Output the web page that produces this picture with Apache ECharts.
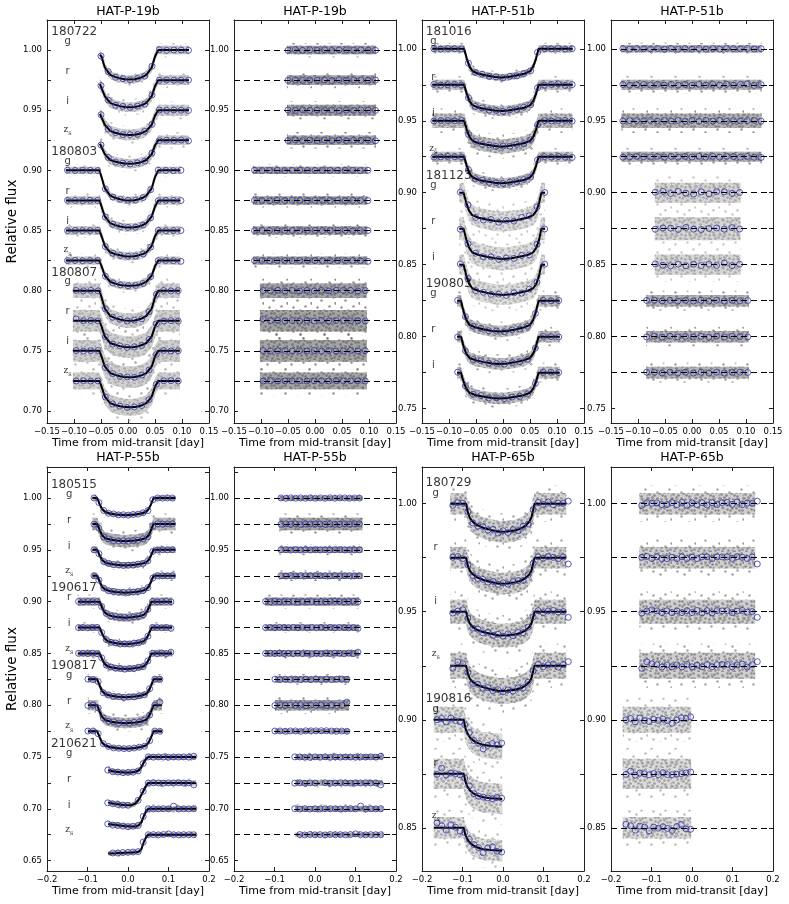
<!DOCTYPE html>
<html><head><meta charset="utf-8">
<script src="https://cdn.jsdelivr.net/npm/echarts@6/dist/echarts.min.js"></script>
<style>html,body{margin:0;padding:0;background:#fff}#c{width:789px;height:904px}</style>
</head><body><div id="c"></div><script>
// ---------------- tick values ----------------
const yTicks19 = [0.700,0.725,0.750,0.775,0.800,0.825,0.850,0.875,0.900,0.925,0.950,0.975,1.000];
const yLabels19 = [0.70,0.75,0.80,0.85,0.90,0.95,1.00];
const yTicks51 = [0.750,0.775,0.800,0.825,0.850,0.875,0.900,0.925,0.950,0.975,1.000];
const yLabels51 = [0.75,0.80,0.85,0.90,0.95,1.00];
const yTicks55 = [0.650,0.675,0.700,0.725,0.750,0.775,0.800,0.825,0.850,0.875,0.900,0.925,0.950,0.975,1.000,1.025];
const yLabels55 = [0.65,0.70,0.75,0.80,0.85,0.90,0.95,1.00];
const yTicks65 = [0.850,0.875,0.900,0.925,0.950,0.975,1.000];
const yLabels65 = [0.85,0.90,0.95,1.00];

// ---------------- HAT-P-19b ----------------
// flux values below are in parts-per-thousand relative to each curve's baseline
const filt_180722 = ['g','r','i','zs'];
const base_180722 = [1.000,0.975,0.950,0.925];
const noise_180722 = [3.5,4,4.5,4];
const modT_180722 = [-0.052,-0.049,-0.043,-0.033,-0.024,-0.015,-0.006,0.003,0.012,0.020,0.027,0.034,0.044,0.050,0.056,0.113];
const modF_180722 = [
 [-3.7,-5.4,-14.5,-20.6,-22.3,-23.5,-24.3,-24.5,-24.3,-23.5,-22.3,-20.6,-14.5,-5.4,0,0],
 [-3.4,-5.0,-13.3,-18.9,-20.5,-21.6,-22.3,-22.5,-22.3,-21.6,-20.5,-18.9,-13.3,-5.0,0,0],
 [-3.1,-4.5,-12.1,-17.2,-18.7,-19.7,-20.3,-20.5,-20.3,-19.7,-18.7,-17.2,-12.1,-4.5,0,0],
 [-2.9,-4.3,-11.5,-16.4,-17.7,-18.7,-19.3,-19.5,-19.3,-18.7,-17.7,-16.4,-11.5,-4.3,0,0]];
const binT_180722 = [-0.050,-0.0365,-0.023,-0.0095,0.004,0.0175,0.031,0.0445,0.058,0.0715,0.085,0.0985,0.112];
const binF_180722 = [
 [-4.9,-18.0,-22.7,-23.8,-24.7,-23.6,-21.6,-13.4,0.3,-0.2,0.1,0.0,-0.2],
 [-4.5,-16.6,-20.9,-21.8,-22.7,-21.6,-19.9,-12.3,-0.2,0.2,0.0,-0.1,0.1],
 [-3.7,-15.7,-18.6,-20.3,-20.3,-20.1,-17.5,-11.8,0.2,-0.1,0.2,0.0,-0.2],
 [-3.9,-14.3,-18.1,-18.9,-19.7,-18.7,-17.3,-10.6,-0.3,0.1,-0.1,0.2,-0.4]];
const binR_180722 = [
 [-0.2,0.4,-0.3,0.2,-0.2,0.2,-0.3,0.3,0.3,-0.2,0.1,0.0,-0.2],
 [-0.2,0.3,-0.3,0.2,-0.2,0.2,-0.3,0.3,-0.2,0.2,0.0,-0.1,0.1],
 [0.2,-0.3,0.2,-0.2,0.2,-0.2,0.3,-0.3,0.2,-0.1,0.2,0.0,-0.2],
 [-0.2,0.3,-0.3,0.2,-0.2,0.2,-0.3,0.3,-0.3,0.1,-0.1,0.2,-0.4]];

const filt_180803 = ['g','r','i','zs'];
const base_180803 = [0.900,0.875,0.850,0.825];
const noise_180803 = [3,3.5,3.5,3.5];
const modT_180803 = [-0.115,-0.053,-0.049,-0.043,-0.033,-0.024,-0.015,-0.006,0.003,0.012,0.020,0.027,0.034,0.044,0.050,0.056,0.097];
const modF_180803 = [
 [0,0,-5.5,-14.8,-21.0,-22.8,-24.0,-24.8,-25.0,-24.8,-24.0,-22.8,-21.0,-14.8,-5.5,0,0],
 [0,0,-5.0,-13.3,-18.9,-20.5,-21.6,-22.3,-22.5,-22.3,-21.6,-20.5,-18.9,-13.3,-5.0,0,0],
 [0,0,-4.7,-12.7,-18.1,-19.6,-20.6,-21.3,-21.5,-21.3,-20.6,-19.6,-18.1,-12.7,-4.7,0,0],
 [0,0,-4.6,-12.4,-17.6,-19.1,-20.2,-20.8,-21.0,-20.8,-20.2,-19.1,-17.6,-12.4,-4.6,0,0]];
const binT_180803 = [-0.112,-0.098,-0.084,-0.070,-0.056,-0.042,-0.028,-0.014,0.000,0.014,0.028,0.042,0.056,0.070,0.084,0.098];
const binF_180803 = [
 [0.2,-0.1,0.1,0.0,-0.2,-15.4,-22.2,-24.1,-24.8,-24.7,-22.6,-16.0,0.2,0.0,-0.2,0.1],
 [0.1,0.0,-0.2,0.1,0.0,-13.8,-19.8,-21.7,-22.4,-22.2,-20.4,-14.4,-0.2,0.1,0.0,-0.1],
 [-0.1,0.1,0.0,0.0,0.1,-13.2,-18.9,-20.7,-21.4,-21.2,-19.5,-13.8,0.1,-0.1,0.0,0.0],
 [0.0,0.1,-0.1,0.1,0.0,-12.9,-18.5,-20.2,-20.9,-20.7,-19.0,-13.4,0.0,0.1,-0.1,-0.6]];
const binR_180803 = [
 [0.2,-0.1,0.1,0.0,-0.2,0.0,0.1,0.0,-0.1,0.1,0.0,0.0,0.2,0.0,-0.2,0.1],
 [0.1,0.0,-0.2,0.1,0.0,0.1,0.0,-0.1,0.0,0.1,0.0,0.0,-0.2,0.1,0.0,-0.1],
 [-0.1,0.1,0.0,0.0,0.1,0.0,-0.1,0.0,0.1,0.0,0.0,0.0,0.1,-0.1,0.0,0.0],
 [0.0,0.1,-0.1,0.1,0.0,0.0,0.1,0.0,0.0,-0.1,0.0,0.0,0.0,0.1,-0.1,-0.6]];

const filt_180807 = ['g','r','i','zs'];
const base_180807 = [0.800,0.775,0.750,0.725];
const noise_180807 = [6,9,9,7];
const modT_180807 = [-0.102,-0.053,-0.049,-0.043,-0.033,-0.024,-0.015,-0.006,0.003,0.012,0.020,0.027,0.034,0.044,0.050,0.056,0.096];
const modF_180807 = [
 [0,0,-5.5,-14.8,-21.0,-22.8,-24.0,-24.8,-25.0,-24.8,-24.0,-22.8,-21.0,-14.8,-5.5,0,0],
 [0,0,-4.8,-13.0,-18.5,-20.0,-21.1,-21.8,-22.0,-21.8,-21.1,-20.0,-18.5,-13.0,-4.8,0,0],
 [0,0,-4.8,-13.0,-18.5,-20.0,-21.1,-21.8,-22.0,-21.8,-21.1,-20.0,-18.5,-13.0,-4.8,0,0],
 [0,0,-4.8,-13.0,-18.5,-20.0,-21.1,-21.8,-22.0,-21.8,-21.1,-20.0,-18.5,-13.0,-4.8,0,0]];
const binT_180807 = [-0.096,-0.0825,-0.069,-0.0555,-0.042,-0.0285,-0.015,-0.0015,0.012,0.0255,0.039,0.0525,0.066,0.0795,0.093];
const binF_180807 = [
 [0.2,-0.1,0.3,-0.2,-15.2,-22.1,-23.8,-25.2,-24.5,-23.4,-17.6,-3.0,0.2,-0.2,0.1],
 [1.5,0.1,0.2,-0.1,-13.3,-19.4,-20.9,-22.2,-21.6,-20.6,-15.5,-2.6,-0.2,0.1,-0.3],
 [0.2,-0.2,0.1,0.3,-13.7,-18.9,-21.3,-21.7,-22.0,-20.2,-15.9,-3.1,0.3,-0.1,0.1],
 [-0.1,0.2,-0.2,0.0,-13.4,-19.2,-21.0,-22.1,-21.7,-20.5,-15.6,-2.8,0.1,0.2,-0.1]];
const binR_180807 = [
 [0.2,-0.1,0.3,-0.2,0.2,-0.3,0.2,-0.3,0.3,-0.3,0.3,0.3,0.2,-0.2,0.1],
 [1.5,0.1,0.2,-0.1,0.2,-0.3,0.2,-0.3,0.2,-0.2,0.2,0.3,-0.2,0.1,-0.3],
 [0.2,-0.2,0.1,0.3,-0.2,0.2,-0.2,0.3,-0.2,0.2,-0.2,-0.2,0.3,-0.1,0.1],
 [-0.1,0.2,-0.2,0.0,0.0,0.2,-0.1,0.0,0.1,-0.1,0.2,0.1,0.1,0.2,-0.1]];

// ---------------- HAT-P-51b ----------------
const filt_181016 = ['g','r','i','zs'];
const base_181016 = [1.000,0.975,0.950,0.925];
const noise_181016 = [2.5,3.5,5,3.5];
const modT_181016 = [-0.131,-0.072,-0.067,-0.062,-0.056,-0.045,-0.030,-0.015,-0.003,0.009,0.024,0.039,0.050,0.056,0.061,0.066,0.129];
const modF_181016 = [
 [0,0,-7.0,-12.4,-15.6,-17.4,-18.6,-19.6,-20.0,-19.6,-18.6,-17.4,-15.6,-12.4,-7.0,0,0],
 [0,0,-6.4,-11.3,-14.3,-15.9,-17.0,-17.9,-18.3,-17.9,-17.0,-15.9,-14.3,-11.3,-6.4,0,0],
 [0,0,-6.3,-11.2,-14.0,-15.7,-16.7,-17.6,-18.0,-17.6,-16.7,-15.7,-14.0,-11.2,-6.3,0,0],
 [0,0,-6.5,-11.5,-14.4,-16.1,-17.2,-18.1,-18.5,-18.1,-17.2,-16.1,-14.4,-11.5,-6.5,0,0]];
const binT_181016 = [-0.128,-0.1152,-0.1024,-0.0896,-0.0768,-0.064,-0.0512,-0.0384,-0.0256,-0.0128,0,0.0128,0.0256,0.0384,0.0512,0.064,0.0768,0.0896,0.1024,0.1152,0.128];
const binF_181016 = [
 [0.1,-0.2,0.2,0,-0.1,-10.0,-16.5,-17.7,-19.2,-19.5,-20.2,-19.1,-18.8,-17.2,-15.3,-2.5,0.2,-0.1,0.3,-0.2,0.1],
 [0.2,-0.3,0.1,0.3,-0.2,-9.0,-15.1,-16.1,-17.6,-17.8,-18.5,-17.4,-17.2,-15.6,-13.9,-2.2,-0.3,0.2,0.6,-0.5,0.1],
 [-0.2,0.1,0.2,-0.1,0.2,-9.5,-14.3,-16.4,-16.8,-17.9,-17.6,-17.7,-16.4,-15.9,-13.2,-2.8,0.2,-0.2,0.1,0.3,-0.3],
 [-0.3,-0.1,0.3,0,-0.2,-9.1,-15.3,-16.3,-17.8,-18.0,-18.6,-17.6,-17.4,-15.8,-14.2,-2.3,0.1,-0.3,0.2,-0.4,-0.5]];
const binR_181016 = [
 [0.1,-0.2,0.2,0,-0.1,0.2,-0.3,0.2,-0.3,0.2,-0.3,0.2,-0.3,0.2,-0.3,0.3,0.2,-0.1,0.3,-0.2,0.1],
 [0.2,-0.3,0.1,0.3,-0.2,0.3,-0.3,0.3,-0.3,0.2,-0.3,0.3,-0.3,0.3,-0.2,0.4,-0.3,0.2,0.6,-0.5,0.1],
 [-0.2,0.1,0.2,-0.1,0.2,-0.3,0.3,-0.3,0.2,-0.3,0.3,-0.3,0.3,-0.2,0.3,-0.3,0.2,-0.2,0.1,0.3,-0.3],
 [-0.3,-0.1,0.3,0,-0.2,0.3,-0.3,0.3,-0.3,0.2,-0.2,0.3,-0.3,0.3,-0.3,0.3,0.1,-0.3,0.2,-0.4,-0.5]];

const filt_181123 = ['g','r','i'];
const base_181123 = [0.900,0.875,0.850];
const noise_181123 = [7,8,7];
const modT_181123 = [-0.081,-0.073,-0.068,-0.063,-0.057,-0.045,-0.030,-0.015,0.000,0.015,0.030,0.045,0.056,0.062,0.067,0.071,0.078];
const modF_181123 = [
 [0,0,-7.0,-12.4,-15.6,-17.4,-18.6,-19.6,-20.0,-19.6,-18.6,-17.4,-15.6,-12.4,-7.0,0,0],
 [0,0,-7.4,-13.0,-16.4,-18.3,-19.5,-20.6,-21.0,-20.6,-19.5,-18.3,-16.4,-13.0,-7.4,0,0],
 [0,0,-7.4,-13.0,-16.4,-18.3,-19.5,-20.6,-21.0,-20.6,-19.5,-18.3,-16.4,-13.0,-7.4,0,0]];
const binT_181123 = [-0.079,-0.0648,-0.0506,-0.0364,-0.0222,-0.008,0.0062,0.0204,0.0346,0.0488,0.063,0.0772];
const binF_181123 = [
 [0.3,-8.5,-17.2,-19.0,-18.6,-20.5,-19.2,-19.8,-17.2,-16.0,-9.8,0.2],
 [-0.4,-10.5,-17.0,-19.5,-19.6,-21.3,-20.4,-20.6,-18.6,-18.2,-10.8,-0.2],
 [0.5,-9.6,-18.0,-19.2,-20.6,-20.5,-21.4,-19.6,-19.8,-16.9,-12.2,0.3]];
const resT_181123 = [-0.068,-0.0538,-0.0396,-0.0254,-0.0112,0.003,0.0172,0.0314,0.0456,0.0598,0.074,0.0882];
const resRange_181123 = [-0.069,0.090];
const binR_181123 = [
 [0.3,0.9,-0.6,0.9,-0.3,-0.9,0.6,-0.8,0.8,0.6,-0.5,0.2],
 [-0.4,0.5,0.4,-0.5,0.9,-0.3,-0.6,0.2,0.5,-0.3,0.8,-0.2],
 [0.5,-0.4,-0.8,0.3,-0.8,0.3,-0.6,0.4,-0.6,1.2,-0.7,0.3]];

const filt_190803 = ['g','r','i'];
const base_190803 = [0.825,0.800,0.775];
const noise_190803 = [4,4,4];
const modT_190803 = [-0.085,-0.078,-0.073,-0.068,-0.062,-0.050,-0.035,-0.020,-0.006,0.008,0.023,0.038,0.050,0.056,0.061,0.066,0.105];
const modF_190803 = [
 [0,0,-7.5,-13.3,-16.8,-18.7,-20.0,-21.1,-21.5,-21.1,-20.0,-18.7,-16.8,-13.3,-7.5,0,0],
 [0,0,-6.7,-11.8,-14.8,-16.5,-17.7,-18.6,-19.0,-18.6,-17.7,-16.5,-14.8,-11.8,-6.7,0,0],
 [0,0,-6.3,-11.2,-14.0,-15.7,-16.7,-17.6,-18.0,-17.6,-16.7,-15.7,-14.0,-11.2,-6.3,0,0]];
const binT_190803 = [-0.084,-0.0696,-0.0552,-0.0408,-0.0264,-0.012,0.0024,0.0168,0.0312,0.0456,0.06,0.0744,0.0888,0.1032];
const binF_190803 = [
 [0.2,-11.1,-17.8,-19.2,-20.9,-21.1,-21.6,-20.3,-19.7,-17.8,-8.9,0.2,-0.1,0.1],
 [-0.2,-9.8,-15.9,-16.8,-18.4,-18.6,-19.1,-18.0,-17.4,-15.7,-7.9,0.3,0.0,-0.2],
 [0.3,-9.2,-15.1,-15.9,-17.6,-17.5,-18.1,-17.0,-16.5,-14.8,-7.5,0.2,0.3,0.1]];
const binR_190803 = [
 [0.2,0.3,-0.2,0.2,-0.3,0.2,-0.3,0.3,-0.3,0.3,-0.3,0.2,-0.1,0.1],
 [-0.2,0.3,-0.3,0.3,-0.2,0.2,-0.3,0.2,-0.3,0.3,-0.3,0.3,0.0,-0.2],
 [0.3,0.3,-0.3,0.3,-0.3,0.3,-0.3,0.3,-0.3,0.3,-0.3,0.2,0.3,0.1]];

// ---------------- HAT-P-55b ----------------
const filt_180515 = ['g','r','i','zs'];
const base_180515 = [1.000,0.975,0.950,0.925];
const noise_180515 = [2,6,3,3];
const modT_180515 = [-0.088,-0.076,-0.070,-0.064,-0.056,-0.045,-0.030,-0.006,0.018,0.033,0.044,0.051,0.057,0.063,0.117];
const modF_180515 = [
 [0,0,-5.8,-10.7,-13.5,-14.9,-15.8,-16.5,-15.8,-14.9,-13.5,-10.7,-5.8,0,0],
 [0,0,-5.8,-10.9,-13.7,-15.0,-16.0,-16.7,-16.0,-15.0,-13.7,-10.9,-5.8,0,0],
 [0,0,-5.3,-9.8,-12.3,-13.5,-14.4,-15.0,-14.4,-13.5,-12.3,-9.8,-5.3,0,0],
 [0,0,-5.7,-10.6,-13.4,-14.7,-15.6,-16.3,-15.6,-14.7,-13.4,-10.6,-5.7,0,0]];
const binT_180515 = [-0.084,-0.0719,-0.0598,-0.0477,-0.0356,-0.0235,-0.0114,0.0007,0.0128,0.0249,0.037,0.0491,0.0612,0.0733,0.0854,0.0975,0.1096];
const binF_180515 = [
 [0.1,-4.3,-12.0,-14.7,-15.3,-16.2,-16.1,-16.5,-15.8,-15.5,-14.2,-12.1,-1.6,0.1,-0.1,0.1,0],
 [-0.3,-4.0,-12.6,-14.4,-16.0,-16.5,-16.3,-16.7,-16.0,-15.7,-14.3,-12.3,-2.1,0.2,-0.2,0.1,0.2],
 [0.1,-3.6,-11.3,-13.0,-14.2,-14.4,-15.0,-14.8,-14.7,-13.8,-13.2,-10.6,-1.5,-0.1,0.1,0,0.1],
 [0,-4.2,-11.9,-14.5,-15.2,-16.0,-15.9,-16.2,-15.7,-15.2,-14.3,-11.5,-2.2,0.1,0,-0.1,0]];
const binR_180515 = [
 [0.1,-0.2,0.2,-0.2,0.2,-0.2,0.2,-0.2,0.2,-0.2,0.2,-0.2,0.2,0.1,-0.1,0.1,0],
 [-0.3,0.1,-0.4,0.1,-0.5,0,0,0,0,-0.4,0.1,-0.4,-0.3,0.2,-0.2,0.1,0.2],
 [0.1,0.2,-0.2,0.2,-0.1,0.2,-0.1,0.1,-0.1,0.2,-0.1,0.2,0.2,-0.1,0.1,0,0.1],
 [0,-0.3,0.2,-0.2,0.1,0,0.1,0.1,0.1,0,-0.1,0.3,-0.3,0.1,0,-0.1,0]];

const filt_190617 = ['r','i','zs'];
const base_190617 = [0.900,0.875,0.850];
const noise_190617 = [4,3,3];
const modT_190617 = [-0.124,-0.070,-0.064,-0.058,-0.050,-0.040,-0.025,-0.006,0.013,0.028,0.039,0.046,0.052,0.058,0.109];
const modF_190617 = [
 [0,0,-5.4,-10.1,-12.7,-14.0,-14.9,-15.5,-14.9,-14.0,-12.7,-10.1,-5.4,0,0],
 [0,0,-5.6,-10.4,-13.1,-14.4,-15.4,-16.0,-15.4,-14.4,-13.1,-10.4,-5.6,0,0],
 [0,0,-5.3,-9.8,-12.3,-13.5,-14.4,-15.0,-14.4,-13.5,-12.3,-9.8,-5.3,0,0]];
const binT_190617 = [-0.122,-0.1106,-0.0992,-0.0878,-0.0764,-0.065,-0.0536,-0.0422,-0.0308,-0.0194,-0.008,0.0034,0.0148,0.0262,0.0376,0.049,0.0604,0.0718,0.0832,0.0946,0.106];
const binF_190617 = [
 [0.2,-0.1,0.3,-0.2,0,-4.7,-11.3,-13.9,-14.3,-15.3,-15.2,-15.5,-14.6,-14.3,-12.6,-7.5,0.2,-0.2,0.1,0.2,-0.1],
 [-0.1,0.1,-0.2,0.2,0.1,-4.8,-11.6,-14.3,-14.8,-15.9,-15.7,-15.9,-15.0,-14.7,-13.1,-8.3,0.1,0,-0.2,0.1,-0.8],
 [0.1,0.2,-0.1,0.3,-0.2,-4.2,-11.3,-13.0,-14.3,-14.4,-15.2,-14.5,-14.6,-13.3,-12.7,-7.2,0.2,-0.3,0.4,-0.2,1.2]];
const binR_190617 = [
 [0.2,-0.1,0.3,-0.2,0,-0.2,0.2,-0.3,0.2,-0.2,0.1,-0.3,0.2,-0.2,0.3,0.3,0.2,-0.2,0.1,0.2,-0.1],
 [-0.1,0.1,-0.2,0.2,0.1,-0.2,0.2,-0.2,0.2,-0.3,0.2,-0.2,0.2,-0.2,0.2,-0.3,0.1,0,-0.2,0.1,-0.8],
 [0.1,0.2,-0.1,0.3,-0.2,0.2,-0.2,0.2,-0.2,0.2,-0.3,0.2,-0.3,0.3,-0.2,0.3,0.2,-0.3,0.4,-0.2,1.2]];

const filt_190817 = ['g','r','zs'];
const base_190817 = [0.825,0.800,0.775];
const noise_190817 = [3,5,2];
const modT_190817 = [-0.099,-0.076,-0.070,-0.064,-0.056,-0.045,-0.030,-0.006,0.018,0.033,0.044,0.051,0.057,0.063,0.084];
const modF_190817 = [
 [0,0,-6.1,-11.2,-14.2,-15.6,-16.6,-17.3,-16.6,-15.6,-14.2,-11.2,-6.1,0,0],
 [0,0,-6.1,-11.2,-14.2,-15.6,-16.6,-17.3,-16.6,-15.6,-14.2,-11.2,-6.1,0,0],
 [0,0,-6.0,-11.1,-13.9,-15.3,-16.3,-17.0,-16.3,-15.3,-13.9,-11.1,-6.0,0,0]];
const binT_190817 = [-0.099,-0.0863,-0.0736,-0.0609,-0.0482,-0.0355,-0.0228,-0.0101,0.0026,0.0153,0.028,0.0407,0.0534,0.0661,0.0788];
const binF_190817 = [
 [0.2,-0.2,-2.2,-12.9,-15.0,-16.5,-16.7,-17.4,-16.9,-16.9,-15.7,-14.9,-9.0,0.2,0],
 [-0.2,0.3,-2.6,-12.4,-15.4,-16.1,-17.2,-17.0,-17.3,-16.5,-16.2,-14.4,-9.5,-0.1,3.0],
 [0.1,0.2,-2.5,-12.1,-14.8,-16.2,-16.5,-16.9,-16.8,-16.3,-15.5,-14.6,-9.2,0.1,-0.1]];
const binR_190817 = [
 [0.2,-0.2,0.2,-0.3,0.2,-0.2,0.2,-0.2,0.2,-0.2,0.2,-0.2,0.2,0.2,0],
 [-0.2,0.3,-0.2,0.2,-0.2,0.2,-0.3,0.2,-0.2,0.2,-0.3,0.3,-0.3,-0.1,3.0],
 [0.1,0.2,-0.1,0.2,0.2,-0.2,0.3,0.3,0.3,0.4,0.4,0.1,0,0.1,-0.1]];

const filt_210621 = ['g','r','i','zs'];
const base_210621 = [0.750,0.725,0.700,0.675];
const noise_210621 = [2.5,2.5,2.5,2];
const modT_210621 = [-0.049,-0.030,-0.010,0.008,0.018,0.026,0.033,0.039,0.045,0.050,0.168];
const modF_210621 = [
 [-12.8,-14.3,-15.0,-14.8,-14.2,-13.0,-10.0,-5.0,-1.5,0,0],
 [-19.0,-20.3,-21.2,-21.5,-20.0,-16.5,-11.5,-7.0,-2.5,0,0],
 [-14.7,-15.5,-16.5,-17.0,-17.0,-16.0,-13.0,-7.0,-2.0,0,0],
 [-18.0,-17.8,-17.5,-17.1,-16.8,-16.5,-14.0,-7.0,-2.0,0,0]];
const binT_210621 = [-0.05,-0.0375,-0.025,-0.0125,0,0.0125,0.025,0.0375,0.05,0.0625,0.075,0.0875,0.1,0.1125,0.125,0.1375,0.15,0.1625];
const binF_210621 = [
 [-12.6,-14.2,-14.5,-15.1,-14.8,-14.6,-13.4,-6.3,0.2,-0.1,0.1,0,-0.2,0.1,0,0.2,-0.1,0.8],
 [-19.2,-20.1,-20.8,-21.4,-21.6,null,-16.8,-8.0,-0.1,0.2,0,-0.2,0.1,0,0.2,-0.1,0.1,-1.8],
 [-14.5,-15.7,-16.1,-16.7,-17.2,-16.8,-16.0,-7.4,0.1,-0.1,0,0.2,0,2.6,-0.1,0.1,0,0.2],
 [null,-17.6,-17.7,-17.2,-17.0,-16.7,-16.3,-7.1,0,0.1,-0.1,0.2,0.8,0,-0.1,0.1,0,0]];
const binR_210621 = [
 [0.2,0.1,-0.2,-0.3,0.2,-0.2,0.3,-0.3,0.2,-0.1,0.1,0,-0.2,0.1,0,0.2,-0.1,0.8],
 [-0.2,0.2,-0.3,0.1,-0.1,null,0.2,-0.2,-0.1,0.2,0,-0.2,0.1,0,0.2,-0.1,0.1,-1.8],
 [0.2,-0.2,0.2,-0.2,0.1,-0.1,0.2,0.1,0.1,-0.1,0,0.2,0,2.6,-0.1,0.1,0,0.2],
 [null,0.2,-0.2,0.2,-0.1,0.1,-0.2,0.2,0,0.1,-0.1,0.2,0.8,0,-0.1,0.1,0,0]];

// ---------------- HAT-P-65b ----------------
const filt_180729 = ['g','r','i','zs'];
const base_180729 = [1.000,0.975,0.950,0.925];
const noise_180729 = [5,5,5.5,6];
const modT_180729 = [-0.130,-0.091,-0.087,-0.082,-0.076,-0.065,-0.050,-0.030,-0.010,0.010,0.030,0.045,0.056,0.065,0.070,0.074,0.078,0.156];
const modF_180729 = [
 [0,0,-3.9,-6.5,-8.1,-9.8,-11.1,-12.1,-13.0,-12.9,-12.4,-11.4,-10.1,-8.3,-6.5,-3.3,0,0],
 [0,0,-3.6,-6.0,-7.4,-9.0,-10.2,-11.2,-12.0,-11.9,-11.4,-10.6,-9.4,-7.7,-6.0,-3.0,0,0],
 [0,0,-3.3,-5.5,-6.8,-8.3,-9.4,-10.2,-11.0,-10.9,-10.5,-9.7,-8.6,-7.0,-5.5,-2.8,0,0],
 [0,0,-3.5,-5.9,-7.3,-8.8,-9.9,-10.9,-11.7,-11.6,-11.1,-10.3,-9.1,-7.5,-5.9,-2.9,0,0]];
const binT_180729 = [-0.124,-0.1116,-0.0992,-0.0868,-0.0744,-0.062,-0.0496,-0.0372,-0.0248,-0.0124,0,0.0124,0.0248,0.0372,0.0496,0.062,0.0744,0.0868,0.0992,0.1116,0.124,0.1364,0.1488,0.1612];
const binF_180729 = [
 [-0.8,0.5,0.2,-3.6,-8.9,-10.4,-10.6,-12.2,-11.8,-13.6,-12.5,-13.3,-12.0,-12.5,-10.4,-9.4,-2.7,0.6,-0.3,0.8,-0.5,0.3,0.2,1.2],
 [0.2,0.6,-0.4,-3.3,-8.2,-9.6,-10.0,-11.3,-11.0,-12.3,-11.6,-12.2,-11.1,-10.6,-10.5,-7.9,-2.6,0.4,-0.3,0.5,0.2,-0.4,0.3,-2.9],
 [-0.6,0.3,0.9,-3.0,-7.6,-8.1,-9.8,-9.5,-10.9,-10.4,-11.3,-10.2,-11.1,-9.6,-9.7,-7.1,-2.4,0.5,-0.4,0.3,0.6,-0.2,0.1,-2.6],
 [-1.2,1.8,0.9,-3.1,-8.2,-8.6,-10.4,-10.1,-11.6,-11.0,-12.1,-11.2,-11.7,-10.2,-10.3,-7.6,-2.3,0.6,-0.5,0.4,0.8,-0.6,0.5,1.9]];
const binR_180729 = [
 [-0.8,0.5,0.2,0.4,-0.4,-0.4,0.5,-0.5,0.6,-0.7,0.4,-0.5,0.5,-0.6,0.5,-0.4,0.5,0.6,-0.3,0.8,-0.5,0.3,0.2,1.2],
 [0.2,0.6,-0.4,0.4,-0.4,-0.4,0.2,-0.5,0.4,-0.4,0.3,-0.4,0.4,0.4,-0.4,0.4,0.4,0.4,-0.3,0.5,0.2,-0.4,0.3,-2.9],
 [-0.6,0.3,0.9,0.4,-0.4,0.4,-0.4,0.4,-0.4,0.5,-0.4,0.6,-0.5,0.5,-0.5,0.5,0.4,0.5,-0.4,0.3,0.6,-0.2,0.1,-2.6],
 [-1.2,1.8,0.9,0.5,-0.6,0.4,-0.5,0.4,-0.5,0.6,-0.5,0.3,-0.5,0.5,-0.5,0.5,0.6,0.6,-0.5,0.4,0.8,-0.6,0.5,1.9]];

const filt_190816 = ['g','r','zs'];
const base_190816 = [0.900,0.875,0.850];
const noise_190816 = [6,7,5];
const modT_190816 = [-0.171,-0.097,-0.093,-0.088,-0.082,-0.075,-0.065,-0.050,-0.030,-0.002];
const modF_190816 = [
 [0,0,-3.8,-6.3,-8.1,-9.4,-10.6,-11.6,-12.1,-12.5],
 [0,0,-3.5,-5.9,-7.6,-8.8,-9.9,-10.9,-11.3,-11.7],
 [0,0,-3.2,-5.3,-6.9,-8.0,-9.0,-9.9,-10.3,-10.6]];
const binT_190816 = [-0.163,-0.1516,-0.1402,-0.1288,-0.1174,-0.106,-0.0946,-0.0832,-0.0718,-0.0604,-0.049,-0.0376,-0.0262,-0.0148,-0.0034];
const binF_190816 = [
 [0,0.6,-1.0,0.8,-0.4,-0.8,-2.3,-5.9,-9.6,-10.9,-13.5,-11.9,-11.0,-11.6,-10.8],
 [-0.3,2.6,-0.6,0.3,0,-0.5,-2.0,-5.6,-9.2,-10.4,-10.8,-11.2,-11.5,-11.0,-11.3],
 [2.2,0.9,-1.1,1.4,0.3,-1.6,-2.2,-5.3,-7.8,-9.2,-11.5,-9.3,-8.8,-10.9,-11.2]];
const binR_190816 = [
 [0,0.6,-1.0,0.8,-0.4,-0.8,0.2,-0.3,0.3,-0.4,-1.6,-0.1,0.9,0.6,1.4],
 [-0.3,1.2,-0.6,0.3,0,-0.5,0.1,-0.4,0.5,-0.4,-0.4,-0.2,0,0.4,0.8],
 [1.6,0.9,-1.1,0.8,0.3,-1.4,0.3,-0.2,0.5,-0.3,-1.2,0.6,1.5,-0.5,-0.7]];

// ---------------- table built from the arrays ----------------
const nightTable = {
 '180722':{filt:filt_180722,base:base_180722,noise:noise_180722,modT:modT_180722,modF:modF_180722,binT:binT_180722,binF:binF_180722,binR:binR_180722},
 '180803':{filt:filt_180803,base:base_180803,noise:noise_180803,modT:modT_180803,modF:modF_180803,binT:binT_180803,binF:binF_180803,binR:binR_180803},
 '180807':{filt:filt_180807,base:base_180807,noise:noise_180807,modT:modT_180807,modF:modF_180807,binT:binT_180807,binF:binF_180807,binR:binR_180807},
 '181016':{filt:filt_181016,base:base_181016,noise:noise_181016,modT:modT_181016,modF:modF_181016,binT:binT_181016,binF:binF_181016,binR:binR_181016},
 '181123':{filt:filt_181123,base:base_181123,noise:noise_181123,modT:modT_181123,modF:modF_181123,binT:binT_181123,binF:binF_181123,binR:binR_181123,resT:resT_181123,resRange:resRange_181123},
 '190803':{filt:filt_190803,base:base_190803,noise:noise_190803,modT:modT_190803,modF:modF_190803,binT:binT_190803,binF:binF_190803,binR:binR_190803},
 '180515':{filt:filt_180515,base:base_180515,noise:noise_180515,modT:modT_180515,modF:modF_180515,binT:binT_180515,binF:binF_180515,binR:binR_180515},
 '190617':{filt:filt_190617,base:base_190617,noise:noise_190617,modT:modT_190617,modF:modF_190617,binT:binT_190617,binF:binF_190617,binR:binR_190617},
 '190817':{filt:filt_190817,base:base_190817,noise:noise_190817,modT:modT_190817,modF:modF_190817,binT:binT_190817,binF:binF_190817,binR:binR_190817},
 '210621':{filt:filt_210621,base:base_210621,noise:noise_210621,modT:modT_210621,modF:modF_210621,binT:binT_210621,binF:binF_210621,binR:binR_210621},
 '180729':{filt:filt_180729,base:base_180729,noise:noise_180729,modT:modT_180729,modF:modF_180729,binT:binT_180729,binF:binF_180729,binR:binR_180729},
 '190816':{filt:filt_190816,base:base_190816,noise:noise_190816,modT:modT_190816,modF:modF_190816,binT:binT_190816,binF:binF_190816,binR:binR_190816}
};

// ---------------- layout & style ----------------
const FONT = "'DejaVu Sans', sans-serif";
const cols = [47, 234, 422, 611], colW = 162;
const rows = [
 {top:20, h:403, xr:[-0.15,0.15], xi:0.05, xd:2, titleTop:5},
 {top:467, h:404, xr:[-0.2,0.2], xi:0.1, xd:1, titleTop:451}];
// fill: band tone, dot: texture tone, a: band opacity
const panels = [
 {name:'HAT-P-19b', r:0, c:0, kind:'m', nights:['180722','180803','180807'], yr:[0.69,1.025], yt:yTicks19, yl:yLabels19, fill:[200,200,200], dot:[172,172,172], a:0.85, lx:{d:-0.141,f:-0.111}, lo:{d:17.5,f:8.5}},
 {name:'HAT-P-19b', r:0, c:1, kind:'r', nights:['180722','180803','180807'], yr:[0.69,1.025], yt:yTicks19, yl:yLabels19, fill:[148,148,148], dot:[118,118,118], a:0.85},
 {name:'HAT-P-51b', r:0, c:2, kind:'m', nights:['181016','181123','190803'], yr:[0.74,1.02], yt:yTicks51, yl:yLabels51, fill:[175,175,175], dot:[140,140,140], a:0.75, lx:{d:-0.142,f:-0.128}, lo:{d:16.3,f:6.5}},
 {name:'HAT-P-51b', r:0, c:3, kind:'r', nights:['181016','181123','190803'], yr:[0.74,1.02], yt:yTicks51, yl:yLabels51, fill:[160,160,160], dot:[128,128,128], a:0.8},
 {name:'HAT-P-55b', r:1, c:0, kind:'m', nights:['180515','190617','190817','210621'], yr:[0.64,1.03], yt:yTicks55, yl:yLabels55, fill:[170,170,170], dot:[140,140,140], a:0.8, lx:{d:-0.189,f:-0.144}, lo:{d:13,f:3.3}},
 {name:'HAT-P-55b', r:1, c:1, kind:'r', nights:['180515','190617','190817','210621'], yr:[0.64,1.03], yt:yTicks55, yl:yLabels55, fill:[150,150,150], dot:[120,120,120], a:0.85},
 {name:'HAT-P-65b', r:1, c:2, kind:'m', nights:['180729','190816'], yr:[0.83,1.017], yt:yTicks65, yl:yLabels65, fill:[180,180,180], dot:[145,145,145], a:0.6, lx:{d:-0.19,f:-0.165}, lo:{d:20.5,f:10}},
 {name:'HAT-P-65b', r:1, c:3, kind:'r', nights:['180729','190816'], yr:[0.83,1.017], yt:yTicks65, yl:yLabels65, fill:[175,175,175], dot:[140,140,140], a:0.6}
];
// relative density of the grey cloud for sparse nights (style)
const cloudDensity = {'181123':0.55, '190816':0.75};

// texture tiles for the grey clouds (style only)
const DOTS_DENSE = [[2,3],[7,1],[12,4],[18,2],[22,6],[4,8],[9,10],[15,8],[20,12],[1,14],[6,15],[11,13],[17,16],[23,18],[3,20],[8,22],[13,19],[19,22],[10,6],[16,12],[5,11],[21,1],[14,23],[0,18],[10,1],[14,15],[19,6],[2,23],[22,21],[7,5],[13,10],[18,19],[4,17],[16,4],[9,18],[23,10]];
const DOTS_SPARSE = [[3,4],[15,2],[9,12],[21,9],[5,19],[17,18],[12,22],[23,15]];
const tileCache = {};
function tile(rgb, dots, rad, key) {
  const k = key + rgb.join(',');
  if (tileCache[k]) return tileCache[k];
  const cv = document.createElement('canvas'); cv.width = 24; cv.height = 24;
  const cx = cv.getContext('2d'); cx.fillStyle = 'rgb(' + rgb.join(',') + ')';
  dots.forEach(([x, y]) => { cx.beginPath(); cx.arc(x + 0.5, y + 0.5, rad, 0, Math.PI * 2); cx.fill(); });
  tileCache[k] = cv; return cv;
}

const fmtX = d => v => { if (Math.abs(v) < 1e-9) v = 0; return (v < 0 ? '\u2212' : '') + Math.abs(v).toFixed(d); };
const AX = '#222';

const grids = [], xB = [], xT = [], yL = [], yR = [], titles = [], series = [];
panels.forEach((P, p) => {
  const R = rows[P.r];
  grids.push({left: cols[P.c], top: R.top, width: colW, height: R.h, containLabel: false, outerBoundsMode: 'none'});
  titles.push({text: P.name, left: cols[P.c] + colW / 2, top: R.titleTop, textAlign: 'center', padding: 0,
    textStyle: {fontSize: 12.5, fontWeight: 'normal', color: '#000', fontFamily: FONT}});
  xB.push({type: 'value', gridIndex: p, position: 'bottom', min: R.xr[0], max: R.xr[1], interval: R.xi,
    axisLine: {show: true, onZero: false, lineStyle: {color: AX, width: 1}},
    axisTick: {show: true, inside: true, length: 4, lineStyle: {color: AX}},
    axisLabel: {fontSize: 8.5, color: '#000', margin: 4, fontFamily: FONT, formatter: fmtX(R.xd)},
    splitLine: {show: false},
    name: 'Time from mid-transit [day]', nameLocation: 'middle', nameGap: 15,
    nameTextStyle: {fontSize: 11, color: '#000', fontFamily: FONT}});
  xT.push({type: 'value', gridIndex: p, position: 'top', min: R.xr[0], max: R.xr[1], interval: R.xi,
    axisLine: {show: true, onZero: false, lineStyle: {color: AX, width: 1}},
    axisTick: {show: true, inside: true, length: 4, lineStyle: {color: AX}},
    axisLabel: {show: false}, splitLine: {show: false}});
  const yl = {type: 'value', gridIndex: p, position: 'left', min: P.yr[0], max: P.yr[1],
    axisLine: {show: true, onZero: false, lineStyle: {color: AX, width: 1}},
    axisTick: {show: true, inside: true, length: 4, lineStyle: {color: AX}, customValues: P.yt},
    axisLabel: {fontSize: 8.5, color: '#000', margin: 5, fontFamily: FONT, customValues: P.yl, formatter: v => v.toFixed(2)},
    splitLine: {show: false}};
  if (P.c === 0) Object.assign(yl, {name: 'Relative flux', nameLocation: 'middle', nameGap: 27, nameRotate: 90,
    nameTextStyle: {fontSize: 13.5, color: '#000', fontFamily: FONT}});
  yL.push(yl);
  yR.push({type: 'value', gridIndex: p, position: 'right', min: P.yr[0], max: P.yr[1],
    axisLine: {show: true, onZero: false, lineStyle: {color: AX, width: 1}},
    axisTick: {show: true, inside: true, length: 4, lineStyle: {color: AX}, customValues: P.yt},
    axisLabel: {show: false}, splitLine: {show: false}});

  // grey clouds
  const polys = [];
  P.nights.forEach(id => {
    const n = nightTable[id];
    n.filt.forEach((f, k) => {
      const b = n.base[k], w = n.noise[k] / 1000, dens = cloudDensity[id] || 1;
      if (P.kind === 'm') polys.push({pts: n.modT.map((t, j) => [t, b + n.modF[k][j] / 1000]), w, dens});
      else {
        const rr = n.resRange || [n.modT[0], n.modT[n.modT.length - 1]];
        polys.push({pts: [[rr[0], b], [rr[1], b]], w, dens});
      }
    });
  });
  const tDense = tile(P.dot, DOTS_DENSE, 1.3, 'd');
  const tSparse = tile(P.dot, DOTS_SPARSE, 1.2, 's');
  series.push({type: 'custom', xAxisIndex: p, yAxisIndex: p, z: 1, silent: true,
    data: polys.map((q, i) => [q.pts[0][0], q.pts[0][1], i]),
    renderItem: (params, api) => {
      const q = polys[params.dataIndex];
      const poly = s => q.pts.map(([x, y]) => api.coord([x, y + s * q.w]))
        .concat(q.pts.slice().reverse().map(([x, y]) => api.coord([x, y - s * q.w])));
      return {type: 'group', children: [
        {type: 'polygon', shape: {points: poly(1.7)}, style: {fill: {image: tSparse, repeat: 'repeat'}, opacity: 0.8 * q.dens}},
        {type: 'polygon', shape: {points: poly(1)}, style: {fill: 'rgb(' + P.fill.join(',') + ')', opacity: P.a * q.dens}},
        {type: 'polygon', shape: {points: poly(1)}, style: {fill: {image: tDense, repeat: 'repeat'}, opacity: q.dens}}
      ]};
    }});

  // model lines
  if (P.kind === 'm') {
    P.nights.forEach(id => {
      const n = nightTable[id];
      n.filt.forEach((f, k) => {
        series.push({type: 'line', xAxisIndex: p, yAxisIndex: p, z: 3, silent: true, symbol: 'none', showSymbol: false,
          data: n.modT.map((t, j) => [t, n.base[k] + n.modF[k][j] / 1000]),
          lineStyle: {color: '#000', width: 2}});
      });
    });
  }

  // binned circles (+ dashed reference lines in residual panels)
  const cData = [], bases = [];
  P.nights.forEach(id => {
    const n = nightTable[id];
    n.filt.forEach((f, k) => {
      const b = n.base[k]; bases.push(b);
      const T = P.kind === 'm' ? n.binT : (n.resT || n.binT);
      const V = P.kind === 'm' ? n.binF[k] : n.binR[k];
      T.forEach((t, j) => { if (V[j] !== null) cData.push([t, b + V[j] / 1000]); });
    });
  });
  const sc = {type: 'scatter', xAxisIndex: p, yAxisIndex: p, z: 4, silent: true, data: cData,
    symbol: 'circle', symbolSize: 6,
    itemStyle: {color: 'rgba(255,255,255,0)', borderColor: '#3333aa', borderWidth: 1}};
  if (P.kind === 'r') sc.markLine = {silent: true, precision: 4, symbol: ['none', 'none'], label: {show: false},
    lineStyle: {color: '#000', type: [6, 4], width: 1.2}, data: bases.map(b => ({yAxis: b}))};
  series.push(sc);

  // text labels (dates and filters)
  if (P.kind === 'm') {
    const items = [];
    P.nights.forEach(id => {
      const n = nightTable[id];
      items.push({value: [P.lx.d, n.base[0]], label: {formatter: id, align: 'left', offset: [0, -P.lo.d], fontSize: 12}});
      n.filt.forEach((f, k) => {
        items.push({value: [P.lx.f, n.base[k]], label: {formatter: f === 'zs' ? '{z|z}{s|s}' : f, align: 'center', offset: [0, -P.lo.f], fontSize: 10}});
      });
    });
    series.push({type: 'scatter', xAxisIndex: p, yAxisIndex: p, z: 6, silent: true, symbolSize: 1,
      itemStyle: {color: 'rgba(0,0,0,0)'}, data: items,
      label: {show: true, position: [0, 0], verticalAlign: 'middle', color: '#000', fontFamily: FONT,
        rich: {z: {fontSize: 9, fontFamily: "'DejaVu Serif', serif", lineHeight: 12, verticalAlign: 'top', color: '#000'},
               s: {fontSize: 6.5, fontFamily: "'DejaVu Serif', serif", lineHeight: 7, verticalAlign: 'bottom', color: '#000'}}}});
  }
});

const chart = echarts.init(document.getElementById('c'), null, {renderer: 'canvas'});
chart.setOption({
  animation: false, backgroundColor: '#fff', textStyle: {fontFamily: FONT},
  title: titles, grid: grids,
  xAxis: xB.concat(xT), yAxis: yL.concat(yR),
  series: series
});
</script></body></html>
